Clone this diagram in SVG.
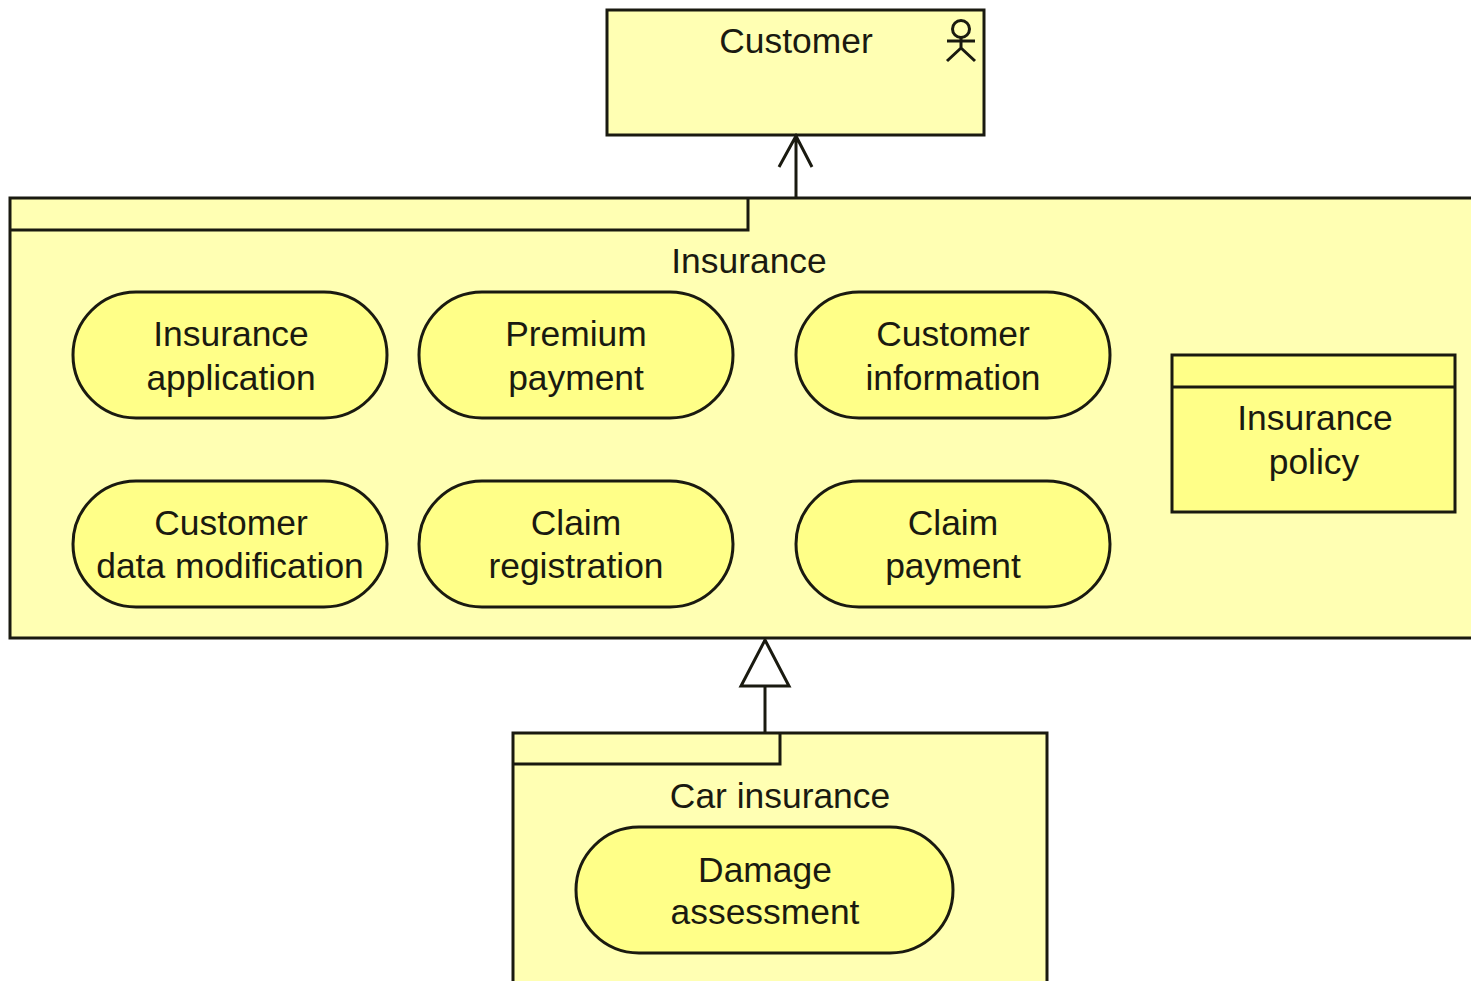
<svg xmlns="http://www.w3.org/2000/svg" width="1471" height="981" viewBox="0 0 1471 981">
<style>
.s{fill:#ffffb3;stroke:#1a1a10;stroke-width:3}
.p{fill:#ffff88;stroke:#1a1a10;stroke-width:3}
.l{fill:none;stroke:#1a1a10;stroke-width:3}
text{font-family:"Liberation Sans",Arial,sans-serif;font-size:35.4px;fill:#1a1a10;text-anchor:middle}
</style>
<rect width="1471" height="981" fill="#fff"/>
<g id="customer"><rect class="s" x="607" y="10" width="377" height="125"/><text x="796" y="53">Customer</text>
<circle class="l" cx="961" cy="29" r="8.5"/><path class="l" d="M961 38V48M947 41H975M961 48L947 61M961 48L975 61"/></g>
<g id="insurance"><path class="s" d="M1471 198H10V638H1471"/><path class="l" d="M10 230H748V198"/><text x="749" y="273">Insurance</text></g>
<g id="insurance-application"><rect class="p" x="73" y="292" width="314" height="126" rx="63"/><text x="231" y="346">Insurance</text><text x="231" y="390">application</text></g>
<g id="premium-payment"><rect class="p" x="419" y="292" width="314" height="126" rx="63"/><text x="576" y="346">Premium</text><text x="576" y="390">payment</text></g>
<g id="customer-information"><rect class="p" x="796" y="292" width="314" height="126" rx="63"/><text x="953" y="346">Customer</text><text x="953" y="390">information</text></g>
<g id="customer-data-modification"><rect class="p" x="73" y="481" width="314" height="126" rx="63"/><text x="231" y="535">Customer</text><text x="230" y="578">data modification</text></g>
<g id="claim-registration"><rect class="p" x="419" y="481" width="314" height="126" rx="63"/><text x="576" y="535">Claim</text><text x="576" y="578">registration</text></g>
<g id="claim-payment"><rect class="p" x="796" y="481" width="314" height="126" rx="63"/><text x="953" y="535">Claim</text><text x="953" y="578">payment</text></g>
<g id="insurance-policy"><rect class="p" x="1172" y="355" width="283" height="157"/><path class="l" d="M1172 387H1455"/><text x="1315" y="430">Insurance</text><text x="1314" y="474">policy</text></g>
<g id="car-insurance"><path class="s" d="M513 981V733H1047V981"/><path class="l" d="M513 764H780V733"/><text x="780" y="808">Car insurance</text></g>
<g id="damage-assessment"><rect class="p" x="576" y="827" width="377" height="126" rx="63"/><text x="765" y="882">Damage</text><text x="765" y="924">assessment</text></g>
<g id="connectors"><path class="l" d="M796 197V136M779 167L796 136L812 167"/><path class="l" d="M765 733V686"/><path d="M765 640L789 686H741Z" fill="#fff" stroke="#1a1a10" stroke-width="3"/></g>
</svg>
